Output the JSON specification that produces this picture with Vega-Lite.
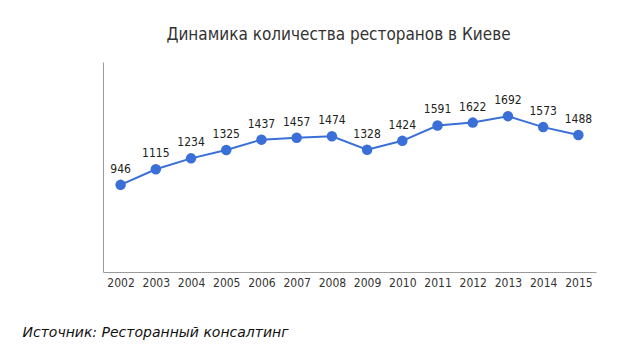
{
  "$schema": "https://vega.github.io/schema/vega-lite/v6.json",
  "autosize": "none",
  "width": 493,
  "height": 210,
  "padding": {"left": 103, "top": 62, "right": 36, "bottom": 89},
  "background": "white",
  "title": {
    "text": "Динамика количества ресторанов в Киеве",
    "font": "Liberation Sans Narrow, DejaVu Sans Condensed, Roboto, sans-serif",
    "fontSize": 17,
    "fontWeight": "normal",
    "color": "#333333",
    "anchor": "middle",
    "frame": "group",
    "dx": -11,
    "offset": 18
  },
  "config": {
    "view": {"stroke": null},
    "font": "Liberation Sans Narrow, DejaVu Sans Condensed, Roboto, sans-serif"
  },
  "data": {
    "values": [
      {"year": "2002", "count": 946},
      {"year": "2003", "count": 1115},
      {"year": "2004", "count": 1234},
      {"year": "2005", "count": 1325},
      {"year": "2006", "count": 1437},
      {"year": "2007", "count": 1457},
      {"year": "2008", "count": 1474},
      {"year": "2009", "count": 1328},
      {"year": "2010", "count": 1424},
      {"year": "2011", "count": 1591},
      {"year": "2012", "count": 1622},
      {"year": "2013", "count": 1692},
      {"year": "2014", "count": 1573},
      {"year": "2015", "count": 1488}
    ]
  },
  "encoding": {
    "x": {
      "field": "year",
      "type": "ordinal",
      "scale": {"type": "point", "padding": 0.5},
      "axis": {
        "title": "Источник: Ресторанный консалтинг",
        "titleFont": "DejaVu Sans, Verdana, sans-serif",
        "titleFontStyle": "italic",
        "titleFontWeight": "normal",
        "titleFontSize": 14,
        "titleColor": "#111111",
        "titleAnchor": "start",
        "titleAlign": "left",
        "titleBaseline": "middle",
        "titleX": -81,
        "titleY": 60,
        "labelAngle": 0,
        "labelFontSize": 12,
        "labelColor": "#333333",
        "labelPadding": 5,
        "ticks": false,
        "domainColor": "#9a9a9a",
        "domainWidth": 1,
        "grid": false
      }
    },
    "y": {
      "field": "count",
      "type": "quantitative",
      "scale": {"domain": [0, 2280], "nice": false},
      "axis": {
        "title": null,
        "labels": false,
        "ticks": false,
        "grid": false,
        "domainColor": "#9a9a9a",
        "domainWidth": 1
      }
    }
  },
  "layer": [
    {
      "mark": {"type": "line", "color": "#3a6fd8", "strokeWidth": 2}
    },
    {
      "mark": {"type": "point", "filled": true, "color": "#3a6fd8", "size": 110, "opacity": 1}
    },
    {
      "mark": {"type": "text", "dy": -16, "fontSize": 12, "color": "#222222"},
      "encoding": {"text": {"field": "count", "type": "quantitative", "format": "d"}}
    }
  ]
}
